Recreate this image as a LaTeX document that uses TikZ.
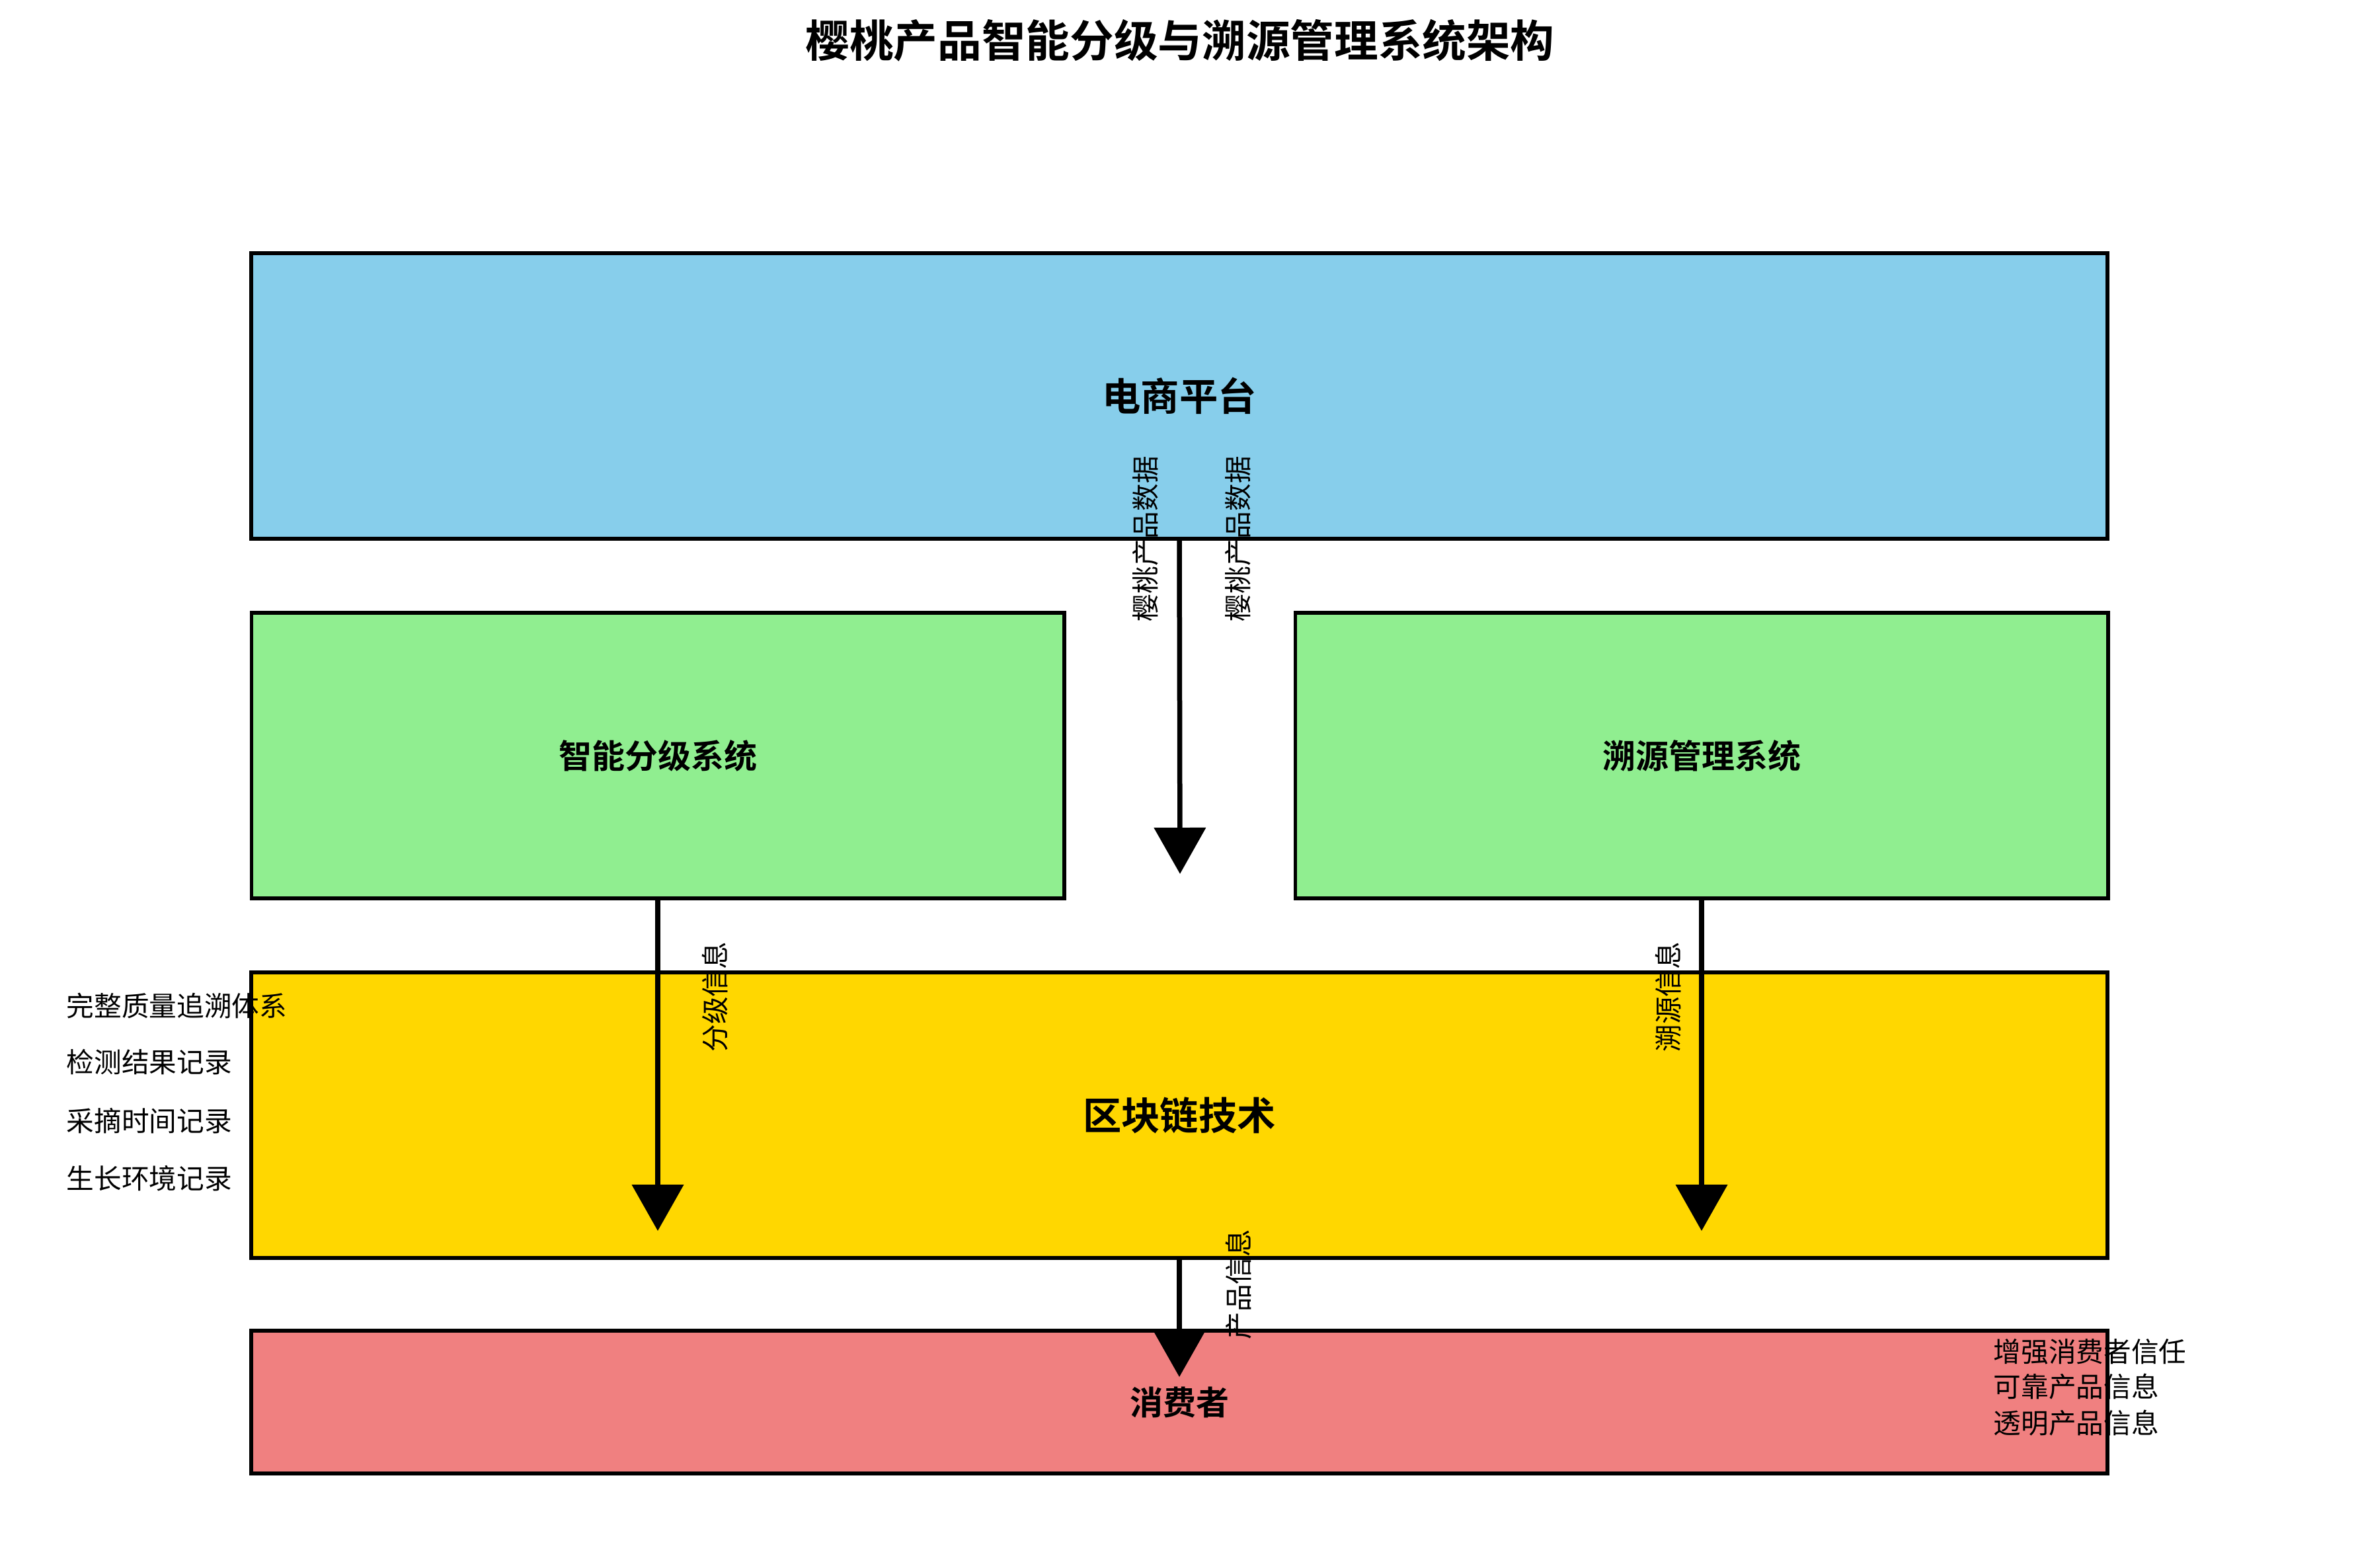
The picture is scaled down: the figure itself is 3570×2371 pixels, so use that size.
\documentclass[tikz,border=0pt]{standalone}
\usepackage{fontspec}
\setmainfont{Noto Sans CJK SC}[BoldFont={Noto Sans CJK SC Bold}]
\usetikzlibrary{arrows.meta,positioning}

\definecolor{skyblue}{HTML}{87CEEB}
\definecolor{lightgreen}{HTML}{90EE90}
\definecolor{gold}{HTML}{FFD700}
\definecolor{lightcoral}{HTML}{F08080}

\tikzset{
  layer/.style={draw=black, line width=1.4pt, inner sep=0pt, font=\bfseries\fontsize{12}{14}\selectfont},
  wide/.style={minimum width=673.9pt},
  half/.style={minimum width=295pt},
  flow/.style={line width=1.8pt, -{Triangle[width=18.5pt,length=16.8pt]}},
  flowlabel/.style={inner sep=0pt, rotate=90, font=\fontsize{10}{12}\selectfont},
  note/.style={inner sep=0pt, anchor=west, font=\fontsize{10}{12}\selectfont}
}

\begin{document}
\begin{tikzpicture}[x=0.24pt, y=-0.24pt]
\useasboundingbox (0,0) rectangle (3570,2371);
% title
\node[font=\bfseries\fontsize{16}{19}\selectfont] (title) at (1785,61) {樱桃产品智能分级与溯源管理系统架构};
% layers
\node[layer, wide, fill=skyblue, minimum height=103.7pt, font=\bfseries\fontsize{14}{17}\selectfont] (ecom) at (1784,599) {电商平台};
\node[layer, half, fill=lightgreen, minimum height=103.7pt] (grading) at (995,1143) {智能分级系统};
\node[layer, half, fill=lightgreen, minimum height=103.7pt] (trace) at (2574,1143) {溯源管理系统};
\node[layer, wide, fill=gold, minimum height=103.7pt, font=\bfseries\fontsize{14}{17}\selectfont] (chain) at (1784,1687) {区块链技术};
\node[layer, wide, fill=lightcoral, minimum height=51.8pt] (consumer) at (1784,2121) {消费者};
% flows
\coordinate (ecomtip) at (1785,1322);
\coordinate (gradetip) at (995,1862);
\coordinate (tracetip) at (2574,1862);
\coordinate (chaintip) at (1784,2083);
\draw[flow] (ecom.south) -- (ecomtip);
\draw[flow] (grading.south) -- (gradetip);
\draw[flow] (trace.south) -- (tracetip);
\draw[flow] (chain.south) -- (chaintip);
% flow labels
\node[flowlabel] (datal) at (1733,815) {樱桃产品数据};
\node[flowlabel] (datar) at (1873,815) {樱桃产品数据};
\node[flowlabel] (gradeinfo) at (1082,1508) {分级信息};
\node[flowlabel] (traceinfo) at (2523,1508) {溯源信息};
\node[flowlabel] (prodinfo) at (1874,1943) {产品信息};
% chain notes
\node[note] (n1) at (100,1521) {完整质量追溯体系};
\node[note] (n2) at (100,1607) {检测结果记录};
\node[note] (n3) at (100,1696) {采摘时间记录};
\node[note] (n4) at (100,1783) {生长环境记录};
% consumer notes
\node[note] (c1) at (3015,2045) {增强消费者信任};
\node[note] (c2) at (3015,2098) {可靠产品信息};
\node[note] (c3) at (3015,2153) {透明产品信息};
\end{tikzpicture}
\end{document}
